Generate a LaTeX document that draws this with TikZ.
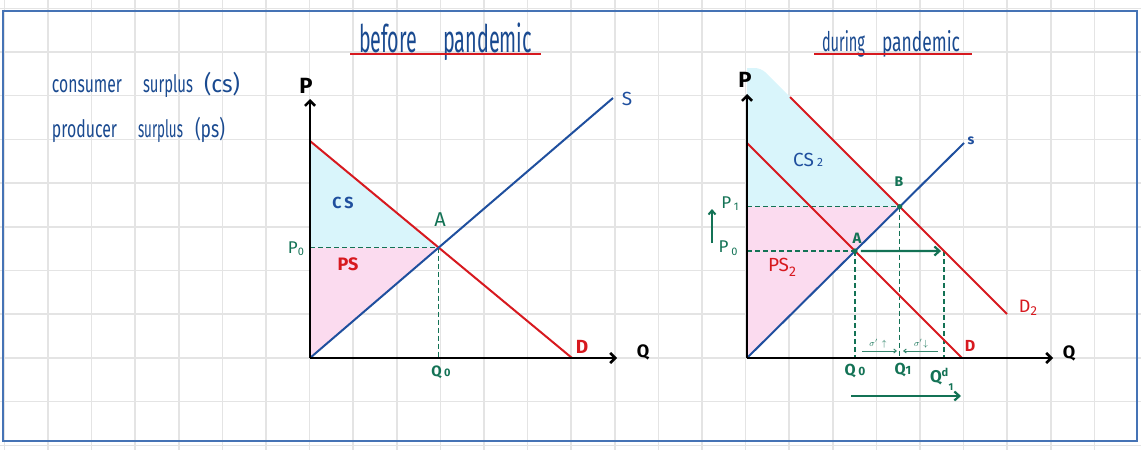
\documentclass[tikz,border=0pt]{standalone}
\usepackage{fontspec}
\usepackage{graphicx}
\setmainfont{Fira Sans}
\usetikzlibrary{arrows.meta}
\definecolor{hblue}{HTML}{1A4A90}
\definecolor{lblue}{HTML}{1F4F9E}
\definecolor{hred}{HTML}{D7191F}
\definecolor{hgreen}{HTML}{137255}
\definecolor{cyanfill}{HTML}{D9F5FB}
\definecolor{pinkfill}{HTML}{FBDBEF}
\definecolor{gridc}{HTML}{E4E4E4}
\definecolor{framec}{HTML}{4573B5}
\newcommand{\fsz}[1]{\fontsize{#1}{#1}\selectfont}
\newcommand{\wbox}[2]{\resizebox{#1pt}{\height}{#2}}
\begin{document}
\begin{tikzpicture}[x=1pt,y=-1pt,
  lab/.style={inner sep=0pt, outer sep=0pt},
  word/.style={inner sep=0pt, outer sep=0pt, anchor=base west, text=hblue},
  dsh/.style={hgreen, line width=1.3pt, dash pattern=on 5pt off 3pt},
  axisline/.style={black, line width=2.6pt, -{Straight Barb[length=5pt,width=10pt]}},
  supply/.style={lblue, line width=2pt},
  demand/.style={hred, line width=2pt},
  garrow/.style={hgreen, line width=2.2pt, -{Straight Barb[length=5pt,width=9pt]}},
  sarrow/.style={hgreen!85, line width=1pt, -{Straight Barb[length=2.5pt,width=4pt]}},
  uline/.style={hred, line width=2pt},
]
\useasboundingbox (0,0) rectangle (1141,450);
% grid
\foreach \i in {0,...,25} \draw[gridc, line width=1.5pt] ({4.4+43.6*\i},0) -- ({4.4+43.6*\i},450);
\foreach \j in {0,...,10} \draw[gridc, line width=1.5pt] (0,{8.3+43.7*\j}) -- (1141,{8.3+43.7*\j});
% frame
\draw[framec, line width=2pt] (3,11) rectangle (1137,441);

% ---------- left graph coordinates
\coordinate (O1) at (310,358);
\coordinate (P1top) at (310,99);
\coordinate (Q1end) at (617,358);
\coordinate (D1t) at (310,141);
\coordinate (D1b) at (572,358);
\coordinate (S1t) at (613,98);
\coordinate (A1) at (intersection of D1t--D1b and O1--S1t);
\coordinate (P0L) at (O1 |- A1);
\coordinate (Q0L) at (A1 |- O1);

\fill[cyanfill] (D1t) -- (A1) -- (P0L) -- cycle;
\fill[pinkfill] (P0L) -- (A1) -- (O1) -- cycle;
\draw[dsh] (P0L) -- (A1);
\draw[dsh] (A1) -- (Q0L);
\draw[demand] (D1t) -- (D1b);
\draw[supply] (O1) -- (S1t);
\draw[axisline] (O1) -- (P1top);
\draw[axisline] (O1) -- (Q1end);

% ---------- right graph coordinates
\coordinate (O2) at (747,358);
\coordinate (P2top) at (747,94);
\coordinate (Q2end) at (1053,358);
\coordinate (D2t) at (747,143);
\coordinate (D2b) at (962,358);
\coordinate (E2t) at (790,97);
\coordinate (E2b) at (1007,314);
\coordinate (S2t) at (964,143);
\coordinate (A2) at (intersection of D2t--D2b and O2--S2t);
\coordinate (B2) at (intersection of E2t--E2b and O2--S2t);
\coordinate (P1R) at (O2 |- B2);
\coordinate (P0R) at (O2 |- A2);
\coordinate (C2) at (intersection of E2t--E2b and P0R--A2);
\coordinate (Q0R) at (A2 |- O2);
\coordinate (Q1R) at (B2 |- O2);
\coordinate (QdR) at (C2 |- O2);
\coordinate (CStop) at (747,68);
\coordinate (CStr) at (761,68);

\fill[cyanfill] (CStop) [rounded corners=6pt] -- (CStr) [sharp corners] -- (E2t) -- (B2) -- (P1R) -- cycle;
\fill[pinkfill] (P1R) -- (B2) -- (O2) -- cycle;
\draw[dsh] (P1R) -- (B2);
\draw[dsh] (P0R) -- (A2);
\draw[dsh] (A2) -- (Q0R);
\draw[dsh] (B2) -- (Q1R);
\draw[dsh] (C2) -- (QdR);
\draw[demand] (D2t) -- (D2b);
\draw[demand] (E2t) -- (E2b);
\draw[supply] (O2) -- (S2t);
\draw[axisline] (O2) -- (P2top);
\draw[axisline] (O2) -- (Q2end);
\fill[hgreen] (A2) circle (2.6pt);
\fill[hgreen] (B2) circle (2.6pt);
\draw[garrow] ([xshift=6pt]A2) -- ([xshift=-3pt]C2);

\coordinate (UA1) at (712,243);
\coordinate (UA2) at (712,209);
\draw[hgreen, line width=2pt, -{Straight Barb[length=4pt,width=7pt]}] (UA1) -- (UA2);
\coordinate (SA1) at (862,351);
\coordinate (SA1e) at (897,351);
\coordinate (SA2) at (938,351);
\coordinate (SA2e) at (903,351);
\draw[sarrow] (SA1) -- (SA1e);
\draw[sarrow] (SA2) -- (SA2e);
\coordinate (BA1) at (851,396);
\coordinate (BA2) at (961,396);
\draw[garrow] (BA1) -- (BA2);

% ---------- titles
\node[word] (t1a) at (359,52) {\wbox{58}{\fsz{38}before}};
\node[word] (t1b) at (443,52) {\wbox{89}{\fsz{38}pandemic}};
\coordinate (u1a) at (350,53.5); \coordinate (u1b) at (541,53.5);
\draw[uline] (u1a) -- (u1b);
\node[word] (t2a) at (822,51) {\wbox{43}{\fsz{27}during}};
\node[word] (t2b) at (882,51) {\wbox{78}{\fsz{27}pandemic}};
\coordinate (u2a) at (814,54); \coordinate (u2b) at (972,54);
\draw[uline] (u2a) -- (u2b);

% ---------- legend text
\node[word] (w1) at (52,92) {\wbox{70}{\fsz{24}consumer}};
\node[word] (w2) at (143,92) {\wbox{50}{\fsz{24}surplus}};
\node[word] (w3) at (204,92) {\wbox{36}{\fsz{24}(cs)}};
\node[word] (w4) at (52,137) {\wbox{65}{\fsz{24}producer}};
\node[word] (w5) at (138,137) {\wbox{45}{\fsz{24}surplus}};
\node[word] (w6) at (195,137) {\wbox{30}{\fsz{24}(ps)}};

% ---------- left labels
\node[lab] (lp) at (306,86) {\fsz{22}\bfseries P};
\node[lab] (lq) at (643,352) {\fsz{18}\bfseries Q};
\node[lab, text=lblue] (ls) at (627,99) {\fsz{19}S};
\node[lab, text=hred] (ld) at (582,347) {\fsz{19}\bfseries D};
\node[lab, text=hgreen] (la) at (440,220) {\fsz{20}A};
\node[lab, text=hgreen] (lp0) at (296,249) {\fsz{17}P\raisebox{-2pt}{\fsz{11}0}};
\node[lab, text=lblue] (lcs) at (343,203) {\fsz{16}\bfseries C\,S};
\node[lab, text=hred] (lps) at (348,264) {\fsz{18}\bfseries PS};
\node[lab, text=hgreen] (lq0) at (441,372) {\fsz{15}\bfseries Q\,{\fsz{11}0}};

% ---------- right labels
\node[lab] (rp) at (745,80) {\fsz{22}\bfseries P};
\node[lab] (rq) at (1069,353) {\fsz{18}\bfseries Q};
\node[lab, text=lblue] (rs) at (971,141) {\fsz{14}\bfseries s};
\node[lab, text=hred] (rd) at (970,346) {\fsz{16}\bfseries D};
\node[lab, text=hred] (rd2) at (1028,308) {\fsz{18}D\raisebox{-3pt}{\fsz{13}2}};
\node[lab, text=lblue] (rcs) at (808,160) {\fsz{19}CS\,{\fsz{12}2}};
\node[lab, text=hgreen] (rb) at (899,182) {\fsz{14}\bfseries B};
\node[lab, text=hgreen] (ra) at (857,238) {\fsz{15}\bfseries A};
\node[lab, text=hgreen] (rp1) at (730,204) {\fsz{17}P\,\raisebox{-2pt}{\fsz{11}1}};
\node[lab, text=hgreen] (rp0) at (728,248) {\fsz{17}P\,\raisebox{-3pt}{\fsz{11}0}};
\node[lab, text=hred] (rps) at (782,267) {\fsz{19}PS\raisebox{-5pt}{\fsz{14}2}};
\node[lab, text=hgreen] (rq0) at (855,371) {\fsz{16}\bfseries Q\,{\fsz{12}0}};
\node[lab, text=hgreen] (rq1) at (903,370) {\fsz{16}\bfseries Q{\fsz{12}1}};
\node[lab, text=hgreen, anchor=west] (rqd) at (930,379) {\fsz{17}\bfseries Q\makebox[0pt][l]{\raisebox{6pt}{\fsz{11}d}}\hspace{7pt}\raisebox{-8pt}{\fsz{10}1}};
\node[lab, text=hgreen] (rsa1) at (878,344) {\fsz{9}$\sigma'\,\uparrow$};
\node[lab, text=hgreen] (rsa2) at (921,344) {\fsz{9}$\sigma'\!\downarrow$};
\end{tikzpicture}
\end{document}
